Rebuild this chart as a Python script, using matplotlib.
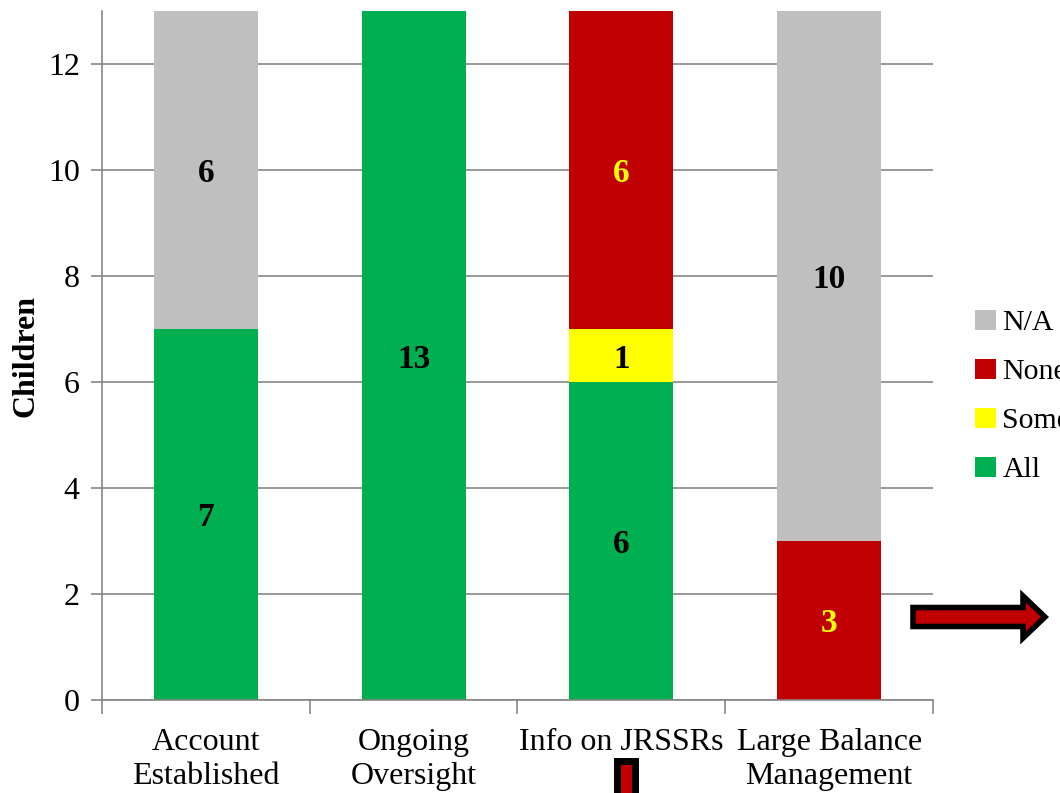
import numpy as np
import matplotlib.pyplot as plt
from matplotlib.patches import FancyArrow, Rectangle

plt.rcParams['font.family'] = ['Liberation Serif', 'DejaVu Serif']

categories = ["Account\nEstablished", "Ongoing\nOversight", "Info on JRSSRs", "Large Balance\nManagement"]
all_vals = [7, 13, 6, 0]
some_vals = [0, 0, 1, 0]
none_vals = [0, 0, 6, 3]
na_vals = [6, 0, 0, 10]

series = [
    ("All", all_vals, "#00B050", "black"),
    ("Some", some_vals, "#FFFF00", "black"),
    ("None", none_vals, "#C00000", "#FFFF00"),
    ("N/A", na_vals, "#BFBFBF", "black"),
]

fig = plt.figure(figsize=(10.6, 7.93), dpi=100)
ax = fig.add_axes([0.0962, 0.1173, 0.7840, 0.8688])

x = np.arange(len(categories))
bottom = np.zeros(len(categories))
handles = []
for name, vals, color, txt_color in series:
    vals = np.array(vals, dtype=float)
    bars = ax.bar(x, vals, 0.5, bottom=bottom, color=color, label=name, zorder=2)
    handles.append(bars)
    for xi, v, b in zip(x, vals, bottom):
        if v > 0:
            ax.text(xi, b + v / 2, f"{int(v)}", ha="center", va="center_baseline",
                    fontsize=24, fontweight="bold", color=txt_color, zorder=3)
    bottom += vals

ax.set_xlim(-0.5, len(categories) - 0.5)
ax.set_ylim(0, 13)
ax.set_yticks(np.arange(0, 13, 2))
ax.yaxis.grid(True, color="#868686", linewidth=1.2, zorder=0)
ax.set_axisbelow(True)

# category labels between boundary ticks
ax.set_xticks(np.arange(-0.5, len(categories), 1))
ax.set_xticklabels([])
ax.set_xticks(x, minor=True)
ax.set_xticklabels(categories, minor=True, fontsize=23, linespacing=1.25)
ax.tick_params(axis="x", which="minor", length=0, pad=20)
ax.tick_params(axis="x", which="major", length=10, width=1.2, color="#868686")
ax.tick_params(axis="y", length=8, width=1.2, color="#868686", labelsize=23, pad=8)

for side in ["top", "right"]:
    ax.spines[side].set_visible(False)
for side in ["left", "bottom"]:
    ax.spines[side].set_color("#868686")
    ax.spines[side].set_linewidth(1.2)

ax.set_ylabel("Children", fontsize=23, fontweight="bold", labelpad=5)

leg = fig.legend(handles[::-1], [s[0] for s in series][::-1],
                 loc="center left", bbox_to_anchor=(0.909, 0.5),
                 frameon=False, fontsize=21.5, handlelength=0.7, handleheight=0.7,
                 handletextpad=0.2, labelspacing=0.74, borderaxespad=0)

# arrow pointing right
W, H = 1060, 793
fig.patches.append(FancyArrow(913 / W, (H - 617) / H, 110 / W, 0,
                              width=19 / H, head_width=42 / H, head_length=22 / W,
                              length_includes_head=False,
                              facecolor="#C00000", edgecolor="black", linewidth=4,
                              transform=fig.transFigure, figure=fig))
# small marker under the third category
fig.patches.append(Rectangle((617 / W, -0.01), 18 / W, (H - 761) / H + 0.01,
                             facecolor="#C00000", edgecolor="black", linewidth=5,
                             transform=fig.transFigure, figure=fig))

fig.savefig("out.png", dpi=100)
